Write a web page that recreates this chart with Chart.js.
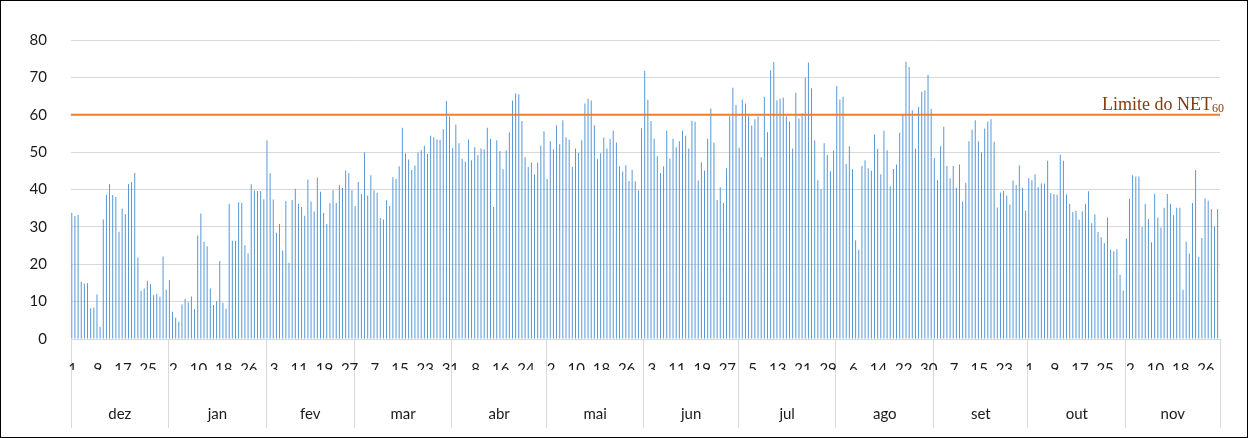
<!DOCTYPE html>
<html lang="pt">
<head>
<meta charset="utf-8">
<script src="https://cdn.jsdelivr.net/npm/chart.js@4/dist/chart.umd.min.js"></script>
<style>
  html, body { margin: 0; padding: 0; background: #fff; }
  #wrap { width: 1248px; height: 438px; }
</style>
</head>
<body>
<div id="wrap"><canvas id="netChart" width="1248" height="438"></canvas></div>
<script>
// NET diário, de dezembro a novembro
const meses = ["dez", "jan", "fev", "mar", "abr", "mai", "jun", "jul", "ago", "set", "out", "nov"];
const diasNoMes = [31, 31, 28, 31, 30, 31, 30, 31, 31, 30, 31, 30];

const dez = [33.7, 32.9, 33.2, 15.3, 14.8, 14.9, 8.2, 8.4, 11.9, 3.3, 32.0, 38.6, 41.5, 38.5, 38.0, 28.7,
  34.9, 33.4, 41.5, 42.0, 44.4, 21.8, 12.9, 13.5, 15.6, 14.7, 11.8, 12.1, 11.4, 22.1, 13.2];
const jan = [15.8, 7.3, 5.7, 4.6, 9.2, 10.7, 9.8, 11.4, 8.0, 27.7, 33.6, 26.0, 24.8, 13.5, 9.1, 10.2,
  20.9, 9.7, 8.1, 36.1, 26.3, 26.3, 36.6, 36.4, 25.1, 22.9, 41.4, 39.8, 39.6, 39.6, 37.4];
const fev = [53.2, 44.4, 37.3, 28.4, 30.8, 23.7, 36.9, 20.4, 37.2, 40.2, 36.2, 35.3, 33.0, 42.7, 36.8,
  34.1, 43.2, 39.4, 33.7, 30.8, 36.3, 39.8, 36.4, 41.2, 40.4, 45.1, 44.4, 39.8];
const mar = [35.6, 42.0, 38.8, 50.0, 38.4, 43.8, 39.8, 39.1, 32.4, 32.0, 37.1, 35.6, 43.3, 42.8, 46.2,
  56.5, 49.6, 48.0, 45.2, 46.4, 49.9, 50.5, 51.7, 49.5, 54.4, 54.0, 53.4, 53.3, 56.1, 63.7, 59.5];
const abr = [51.2, 57.4, 52.4, 48.2, 47.4, 53.4, 47.8, 51.3, 49.2, 51.0, 50.8, 56.5, 53.5, 35.3, 53.2,
  50.3, 45.4, 50.5, 55.3, 63.8, 65.7, 65.5, 58.3, 48.6, 46.0, 47.2, 44.1, 47.2, 51.8, 55.6];
const mai = [42.8, 53.0, 50.8, 57.2, 52.1, 58.5, 54.0, 53.3, 46.0, 51.0, 49.8, 53.2, 63.0, 64.3, 63.8,
  57.2, 48.1, 49.7, 53.9, 51.0, 53.5, 55.8, 52.6, 46.2, 44.8, 46.5, 42.3, 45.2, 42.2, 39.8, 56.4];
const jun = [71.7, 64.0, 58.3, 53.6, 48.9, 44.4, 46.2, 55.7, 48.3, 53.6, 51.3, 52.9, 55.7, 54.4, 51.0,
  58.4, 58.1, 42.4, 47.3, 45.1, 53.6, 61.7, 52.5, 37.2, 40.6, 36.4, 45.7, 59.6, 67.2, 62.6];
const jul = [51.2, 64.1, 63.0, 59.6, 57.1, 58.8, 59.6, 48.6, 64.8, 55.3, 71.9, 74.1, 63.9, 64.3, 64.6,
  59.6, 58.2, 51.0, 65.9, 59.0, 60.4, 69.9, 74.0, 67.1, 53.2, 42.5, 40.1, 52.4, 49.2, 44.9, 50.5];
const ago = [67.7, 64.1, 64.8, 46.8, 51.6, 45.4, 26.4, 23.9, 46.3, 47.8, 45.7, 45.0, 54.7, 50.9, 44.1,
  55.7, 50.5, 40.9, 45.5, 46.7, 55.2, 59.9, 74.2, 72.8, 61.2, 51.0, 62.1, 66.1, 66.5, 70.7, 61.6];
const set = [48.4, 42.5, 51.6, 56.8, 46.3, 43.0, 46.3, 40.5, 46.7, 36.8, 41.8, 52.9, 56.0, 58.5, 52.9,
  50.0, 56.3, 58.2, 58.8, 52.8, 35.2, 39.2, 39.6, 38.4, 36.0, 42.4, 41.2, 46.4, 40.5, 34.3];
const out = [43.0, 42.5, 44.1, 40.6, 41.6, 41.6, 47.7, 39.0, 38.8, 38.6, 49.3, 47.7, 38.7, 36.2, 34.0,
  34.3, 31.9, 34.2, 36.1, 39.5, 31.0, 33.3, 28.6, 27.2, 25.7, 32.5, 23.9, 23.5, 24.0, 17.2, 13.0];
const nov = [26.9, 37.5, 43.8, 43.4, 43.5, 30.0, 36.1, 32.1, 25.9, 38.8, 32.5, 29.8, 35.1, 38.8, 36.1,
  33.1, 35.1, 35.1, 13.2, 26.0, 22.9, 36.4, 45.2, 22.0, 27.0, 37.6, 37.0, 34.8, 30.1, 34.7];

const LIMITE = 60;             // NET60
const PASSO_ROTULO = 8;        // um rótulo de dia a cada 8 barras
const Y_MAX = 80;
const Y_PASSO = 10;

const net = [dez, jan, fev, mar, abr, mai, jun, jul, ago, set, out, nov].flat();
const dias = diasNoMes.flatMap(n => Array.from({ length: n }, (_, i) => i + 1));

// índice do primeiro dia de cada mês
const inicioMes = [];
diasNoMes.reduce((acc, n) => { inicioMes.push(acc); return acc + n; }, 0);
const bordasMes = new Set([...inicioMes, net.length]);

// ticks do eixo de meses: divisórias nas bordas, nomes no meio
const ticksMes = [
  ...[...bordasMes].map(i => ({ value: i - 0.5, borda: true })),
  ...meses.map((m, k) => ({ value: inicioMes[k] + diasNoMes[k] / 2 - 0.5, nome: m }))
].sort((a, b) => a.value - b.value);

const CINZA = "#D9D9D9";
const TEXTO = "#1A1A1A";
const fonteEixo = { family: "Lato", size: 15 };

const moldura = {
  id: "moldura",
  beforeDraw(chart) {
    const c = chart.ctx;
    c.save();
    c.fillStyle = "#fff";
    c.fillRect(0, 0, chart.width, chart.height);
    c.restore();
  },
  afterDraw(chart) {
    const c = chart.ctx;
    c.save();
    c.strokeStyle = "#000";
    c.lineWidth = 1;
    c.strokeRect(0.5, 0.5, chart.width - 1, chart.height - 1);
    c.restore();
  }
};

const rotuloLimite = {
  id: "rotuloLimite",
  afterDatasetsDraw(chart) {
    const c = chart.ctx;
    const y = chart.scales.y.getPixelForValue(LIMITE);
    const xFim = chart.chartArea.right + 4;
    c.save();
    c.fillStyle = "#843C0C";
    c.textBaseline = "alphabetic";
    c.font = '12px "Liberation Serif"';
    const sub = String(LIMITE);
    const wSub = c.measureText(sub).width;
    c.fillText(sub, xFim - wSub, y - 2.5);
    c.font = '18px "Liberation Serif"';
    const txt = "Limite do NET";
    const wTxt = c.measureText(txt).width;
    c.fillText(txt, xFim - wSub - wTxt, y - 5);
    c.restore();
  }
};

new Chart(document.getElementById("netChart"), {
  type: "bar",
  data: {
    labels: dias,
    datasets: [
      {
        label: "NET",
        data: net,
        backgroundColor: "#4E92D3",
        categoryPercentage: 1,
        barPercentage: 0.6,
        order: 1
      },
      {
        type: "line",
        label: "Limite do NET60",
        data: [{ x: -0.5, y: LIMITE }, { x: net.length - 0.5, y: LIMITE }],
        xAxisID: "mes",
        borderColor: "#ED7D31",
        borderWidth: 2,
        pointRadius: 0,
        clip: false,
        order: 0
      }
    ]
  },
  options: {
    responsive: false,
    animation: false,
    devicePixelRatio: 1,
    layout: { padding: { top: 40, right: 28, bottom: 0, left: 0 } },
    plugins: { legend: { display: false }, tooltip: { enabled: false } },
    scales: {
      x: {
        type: "category",
        weight: 0,
        offset: true,
        border: { display: false },
        grid: {
          offset: true,
          drawOnChartArea: false,
          tickLength: 31,
          color: ctx => (ctx.type !== "tick" || bordasMes.has(ctx.index)) ? CINZA : "transparent"
        },
        ticks: {
          autoSkip: false,
          maxRotation: 0,
          padding: -10,
          color: TEXTO,
          font: fonteEixo,
          callback: (v, i) => (i % PASSO_ROTULO === 0 ? String(dias[i]) : "")
        },
        afterFit: s => { s.height = 31; }
      },
      mes: {
        type: "linear",
        position: "bottom",
        weight: 1,
        offset: false,
        min: -0.5,
        max: net.length - 0.5,
        border: { display: false },
        afterBuildTicks: s => { s.ticks = ticksMes.map(t => ({ ...t })); },
        grid: {
          offset: false,
          drawOnChartArea: false,
          tickLength: 58,
          color: ctx => (ctx.tick && ctx.tick.borda) ? CINZA : "transparent"
        },
        ticks: {
          autoSkip: false,
          maxRotation: 0,
          padding: -23,
          color: TEXTO,
          font: fonteEixo,
          callback: (v, i, ticks) => ticks[i].nome || ""
        },
        afterFit: s => { s.height = 68; }
      },
      y: {
        min: 0,
        max: Y_MAX,
        border: { display: false },
        grid: { color: CINZA, drawTicks: false },
        ticks: { stepSize: Y_PASSO, padding: 24, color: TEXTO, font: fonteEixo },
        afterFit: s => { s.width = 71; }
      }
    }
  },
  plugins: [moldura, rotuloLimite]
});
</script>
</body>
</html>
